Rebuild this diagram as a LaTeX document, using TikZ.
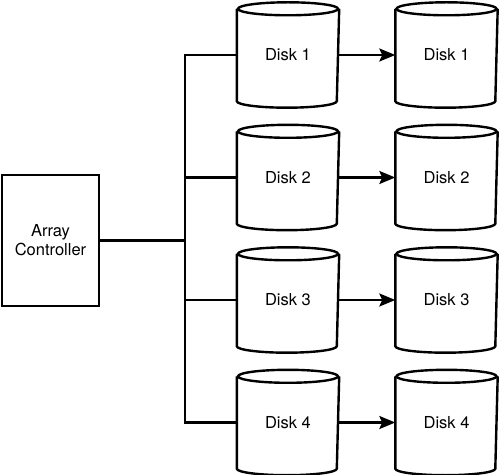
\documentclass[tikz,border=0pt]{standalone}
\usepackage{fontspec}
\setmainfont{TeX Gyre Heros}
\usetikzlibrary{arrows.meta}
\begin{document}
\begin{tikzpicture}[x=1pt,y=1pt,line width=2.4pt,
  lbl/.style={font=\fontsize{16.5}{19}\selectfont},
  ctrlbox/.style={lbl,draw,minimum width=97pt,minimum height=131pt,align=center,inner sep=0pt},
  diskbody/.style={lbl,minimum width=100pt,minimum height=90pt,inner sep=0pt},
  cylline/.style={line width=2.4pt},
  arr/.style={-{Stealth[length=16pt,width=13pt,inset=3pt]}}]
\useasboundingbox (0,0) rectangle (500,474);
\node[ctrlbox] (ctrl) at (50.5,233.5) {Array\\Controller};
\foreach \i/\y in {1/419,2/296.5,3/174,4/51.5}{
  \node[diskbody] (L\i) at (288,\y) {Disk \i};
  \node[diskbody] (R\i) at (446.5,\y) {Disk \i};
  \foreach \n in {L\i,R\i}{
    \draw[cylline] (\n.north west) -- (\n.south west)
      arc[start angle=180,end angle=360,x radius=50pt,y radius=6.5pt]
      -- (\n.north east);
    \draw[cylline] (\n.north) ellipse[x radius=50pt,y radius=6.5pt];
  }
  \draw[arr] (L\i.east) -- (R\i.west);
}
\coordinate (bus) at (185,233.5);
\draw (ctrl.east) -- (bus);
\draw (L1.west) -| (bus) |- (L4.west);
\draw (L2.west) -- (L2.west -| bus);
\draw (L3.west) -- (L3.west -| bus);
\end{tikzpicture}
\end{document}
